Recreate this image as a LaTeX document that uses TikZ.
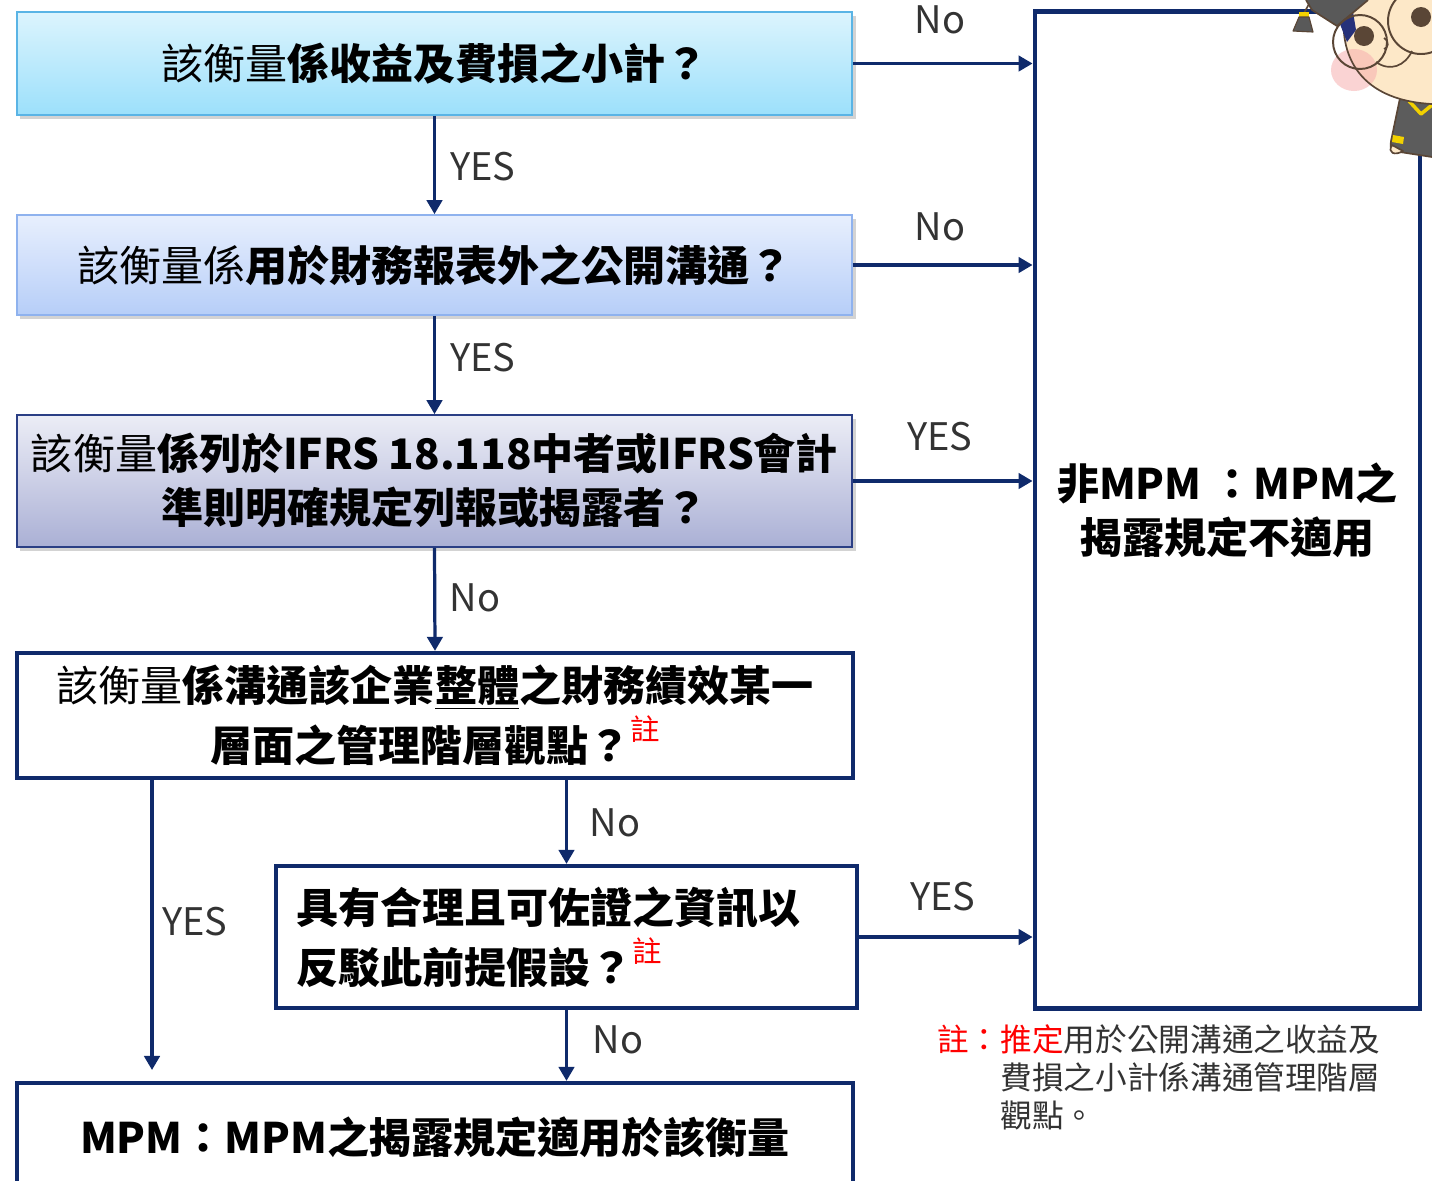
\documentclass[tikz,border=0pt]{standalone}
\usepackage{fontspec}
\setmainfont{Noto Sans CJK TC}
\usetikzlibrary{arrows.meta,shadows}

\definecolor{navy}{HTML}{0F2A6B}
\definecolor{labelgray}{HTML}{333333}
\definecolor{notered}{HTML}{FF0000}
\definecolor{cyanTop}{HTML}{DCF4FD}
\definecolor{cyanBot}{HTML}{9CE0FB}
\definecolor{cyanEdge}{HTML}{5AB4E5}
\definecolor{blueTop}{HTML}{E8EFFD}
\definecolor{blueBot}{HTML}{B6CEF8}
\definecolor{blueEdge}{HTML}{8FB2EE}
\definecolor{lavTop}{HTML}{ECEDF6}
\definecolor{lavBot}{HTML}{AAB0D5}
\definecolor{lavEdge}{HTML}{2B3F85}
% cartoon palette
\definecolor{ink}{HTML}{5A4636}
\definecolor{skin}{HTML}{FDE8C8}
\definecolor{blush}{HTML}{F6AFB0}
\definecolor{gown}{HTML}{5C5C5C}
\definecolor{capgray}{HTML}{595959}
\definecolor{hairblue}{HTML}{26317A}
\definecolor{gold}{HTML}{F2D100}

\newcommand\qsize{\fontsize{29.9pt}{38.4pt}\selectfont}
\newcommand\qsizeloose{\fontsize{29.9pt}{42.5pt}\selectfont}
\newcommand\lblsize{\fontsize{27pt}{30pt}\selectfont}
\newcommand\notesize{\fontsize{22.5pt}{27pt}\selectfont}
\newcommand\notemark{\raisebox{0.5em}{\fontsize{21pt}{21pt}\selectfont\color{notered}註}}

\tikzset{
  qbox/.style={draw, line width=1.2pt, minimum width=20.875cm, align=center,
    font=\qsize, drop shadow={shadow xshift=2.5pt, shadow yshift=-2.5pt, opacity=0.35}},
  plainbox/.style={draw=navy, line width=3pt, fill=white, align=center},
  flow/.style={draw=navy, line width=2.3pt, -{Triangle[length=10pt,width=11pt]}},
  lbl/.style={font=\lblsize, text=labelgray},
}

\begin{document}
\begin{tikzpicture}[x=0.025cm,y=-0.025cm]
\useasboundingbox (0,0) rectangle (1432,1180);
\clip (0,0) rectangle (1432,1180);

% question boxes
\node[qbox, draw=cyanEdge, top color=cyanTop, bottom color=cyanBot,
  minimum height=2.575cm] (q1) at (434.5,63.5)
  {該衡量\textbf{係收益及費損之小計？}};
\node[qbox, draw=blueEdge, top color=blueTop, bottom color=blueBot,
  minimum height=2.5cm] (q2) at (434.5,265)
  {該衡量係\textbf{用於財務報表外之公開溝通？}};
\node[qbox, draw=lavEdge, top color=lavTop, bottom color=lavBot,
  minimum height=3.3cm] (q3) at (434.5,481)
  {該衡量\textbf{係列於IFRS 18.118中者或IFRS會計}\\\textbf{準則明確規定列報或揭露者？}};
\node[plainbox, font=\qsizeloose, minimum width=20.9cm, minimum height=3.125cm] (q4) at (435,715.5)
  {該衡量\textbf{係溝通該企業\underline{整體}之財務績效某一}\\\textbf{層面之管理階層觀點？}\notemark};
\node[plainbox, font=\qsizeloose, align=left, text width=13.5cm, inner sep=0pt,
  minimum width=14.525cm, minimum height=3.55cm] (q5) at (566.5,937)
  {\textbf{具有合理且可佐證之資訊以}\\\textbf{反駁此前提假設？}\notemark};
\node[plainbox, font=\qsize, minimum width=20.9cm, minimum height=2.7cm] (mpm) at (435,1137)
  {\textbf{MPM：MPM之揭露規定適用於該衡量}};
\node[plainbox, line width=3.4pt, font=\qsize, minimum width=9.625cm, minimum height=24.9cm] (nonmpm) at (1227.5,510)
  {\textbf{非MPM ：MPM之}\\\textbf{揭露規定不適用}};

% connectors
\draw[flow] (q1.east) -- (q1.east -| nonmpm.west);
\draw[flow] (q2.east) -- (q2.east -| nonmpm.west);
\draw[flow] (q3.east) -- (q3.east -| nonmpm.west);
\draw[flow] (q5.east) -- (q5.east -| nonmpm.west);
\draw[flow] (q1.south) -- (q2.north);
\draw[flow] (q2.south) -- (q3.north);
\draw[flow] (q3.south) -- (q4.north);
\draw[flow] (q4.south -| q5.north) -- (q5.north);
\draw[flow] (q5.south) -- (q5.south |- mpm.north);
\coordinate (yesend) at (152,1070);
\draw[flow] (q4.south -| yesend) -- (yesend);

% connector labels
\node[lbl] (l1) at (940,20) {No};
\node[lbl] (l2) at (483,167) {YES};
\node[lbl] (l3) at (940,227) {No};
\node[lbl] (l4) at (483,358) {YES};
\node[lbl] (l5) at (940,437) {YES};
\node[lbl] (l6) at (475,598) {No};
\node[lbl] (l7) at (615,823) {No};
\node[lbl] (l8) at (195,922) {YES};
\node[lbl] (l9) at (943,897) {YES};
\node[lbl] (l10) at (618,1040) {No};

% footnote
\node[anchor=north west, align=left, font=\notesize, text=labelgray, inner sep=0pt] (note) at (937,1024)
  {{\color{notered}註：推定}用於公開溝通之收益及\\\hspace*{2em}費損之小計係溝通管理階層\\\hspace*{2em}觀點。};

% graduate mascot in the corner
\begin{scope}[line width=1.2pt, line join=round]
  % gown
  \path[fill=gown, draw=ink] (1432,98) -- (1400,98) -- (1391,141)
    .. controls (1390,150) .. (1400,152) -- (1432,157);
  \fill[gold] (1393,135) -- (1404,137) -- (1403,144) -- (1392,142) -- cycle;
  \path[fill=skin, draw=ink] (1392,145) .. controls (1387,153) and (1395,156) .. (1403,151) -- cycle;
  \draw[gold, line width=2.5pt] (1409,101) -- (1421,114) -- (1432,105);
  % face
  \fill[skin] (1346,0) .. controls (1336,50) and (1355,100) .. (1432,104) -- (1432,0) -- cycle;
  \fill[blush, opacity=0.55] (1354,70) ellipse (23 and 21);
  \draw[ink] (1346,0) .. controls (1336,50) and (1355,100) .. (1432,104);
  % hair and cap
  \fill[hairblue] (1336,14) -- (1352,6) -- (1356,30) -- (1347,42) -- cycle;
  \path[fill=capgray, draw=ink] (1306,0) -- (1312,10) -- (1337,26) -- (1368,0);
  % tassel
  \draw[ink] (1309,4) -- (1304,13);
  \fill[gold] (1299,12) rectangle (1309,17);
  \path[fill=capgray, draw=ink, line width=0.8pt] (1299,17) -- (1293,31) -- (1313,32) -- (1309,17) -- cycle;
  % glasses and eyes
  \fill[ink] (1364,36) circle (10);
  \fill[ink] (1421,17) circle (10);
  \draw[ink, line width=1.4pt] (1360,42) circle (27);
  \draw[ink, line width=1.4pt] (1421,21) circle (33);
  % nose and smile
  \draw[ink] (1384,38) .. controls (1390,42) and (1388,48) .. (1384,49);
  \draw[ink] (1376,62) .. controls (1390,72) and (1405,66) .. (1412,51);
\end{scope}
\end{tikzpicture}
\end{document}
